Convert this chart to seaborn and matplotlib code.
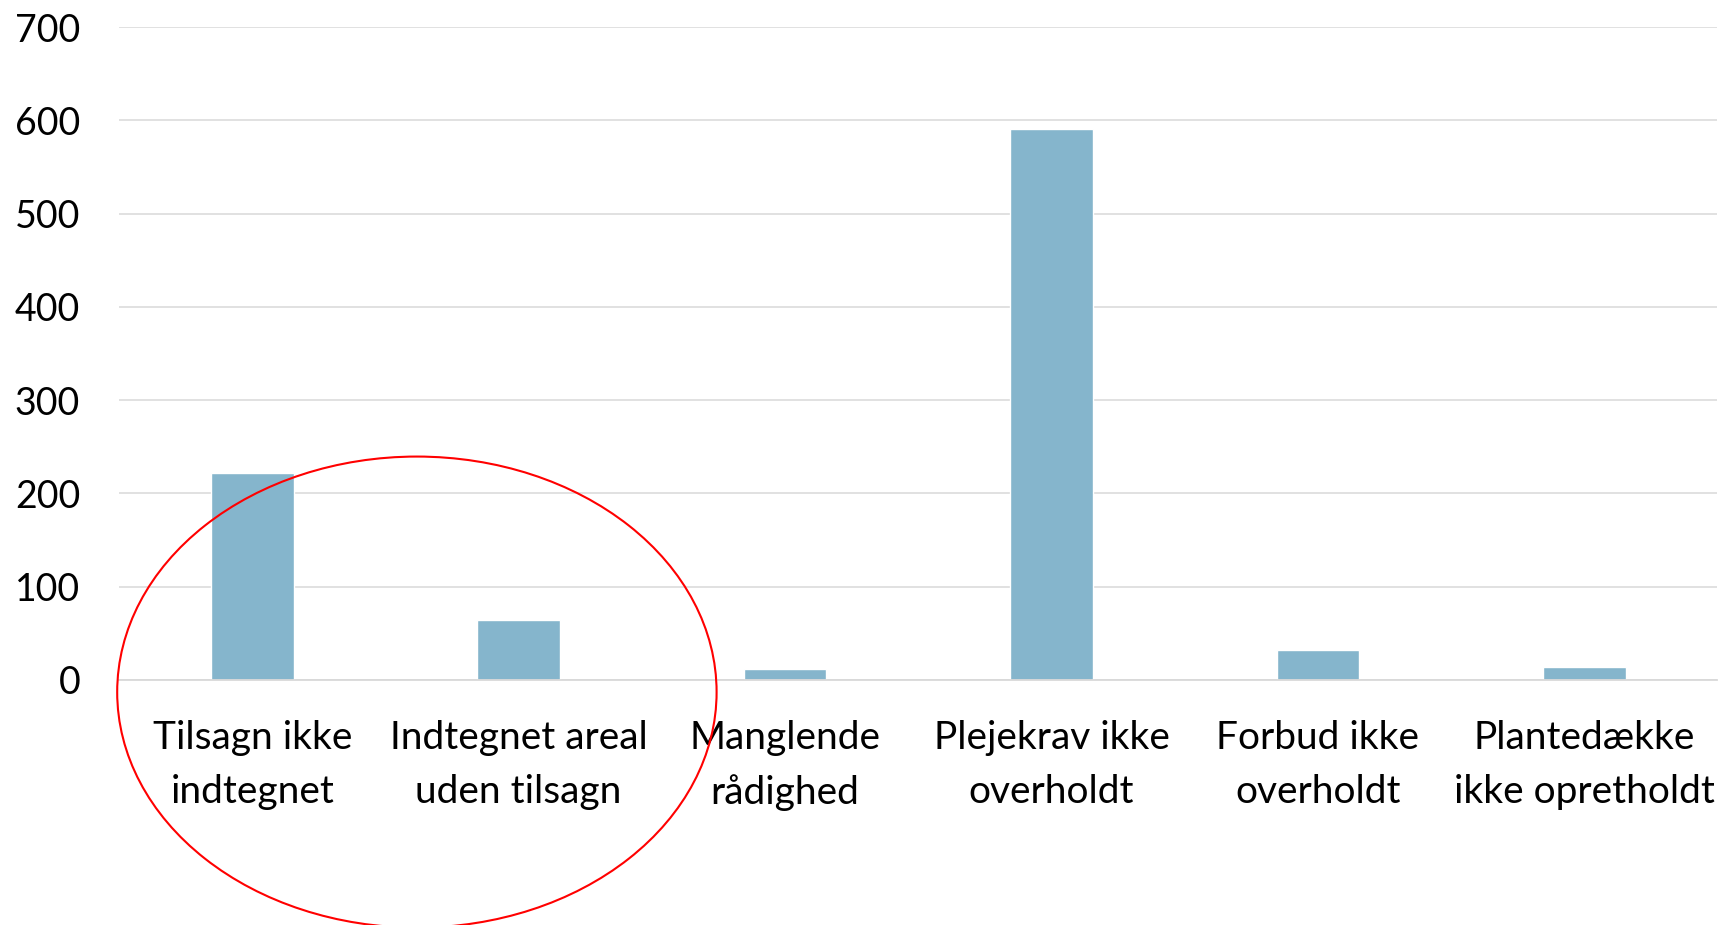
import matplotlib
matplotlib.use('Agg')
import matplotlib.pyplot as plt
import seaborn as sns
import pandas as pd
from matplotlib.patches import Ellipse

# Chart values
categories = ['Tilsagn ikke\nindtegnet', 'Indtegnet areal\nuden tilsagn', 'Manglende\nrådighed',
              'Plejekrav ikke\noverholdt', 'Forbud ikke\noverholdt', 'Plantedække\nikke opretholdt']
counts = [222, 64, 12, 591, 32, 14]
y_ticks = [0, 100, 200, 300, 400, 500, 600, 700]

df = pd.DataFrame({'Kategori': categories, 'Antal': counts})

sns.set_style('white')
plt.rcParams['font.family'] = ['Lato', 'DejaVu Sans']

fig = plt.figure(figsize=(17.28, 9.25), dpi=100)
ax = fig.add_axes([0.0689, 0.2649, 0.925, 0.7059])

sns.barplot(data=df, x='Kategori', y='Antal', color='#85b5cc', width=0.31,
            saturation=1, ax=ax, zorder=3)

ax.set_ylim(0, 700)
ax.set_xlim(-0.5, len(categories) - 0.5)
ax.set_yticks(y_ticks)
ax.yaxis.grid(True, color='#d9d9d9', linewidth=1.1, zorder=0)
ax.set_axisbelow(True)
for side in ['top', 'right', 'left']:
    ax.spines[side].set_visible(False)
ax.spines['bottom'].set_color('#d9d9d9')
ax.spines['bottom'].set_linewidth(1.3)
ax.spines['bottom'].set_zorder(4)

ax.tick_params(axis='y', length=0, pad=28, labelsize=27, labelcolor='black')
ax.tick_params(axis='x', length=0, pad=29, labelsize=28, labelcolor='black')
for lbl in ax.get_xticklabels():
    lbl.set_linespacing(1.6)
ax.set_xlabel('')
ax.set_ylabel('')

# Red ellipse around the first two categories
ell = Ellipse((0.618, -13), width=2.25, height=505, fill=False,
              edgecolor='#ff0000', linewidth=1.5, clip_on=False, zorder=5)
ax.add_patch(ell)

fig.savefig('out.png', dpi=100)
